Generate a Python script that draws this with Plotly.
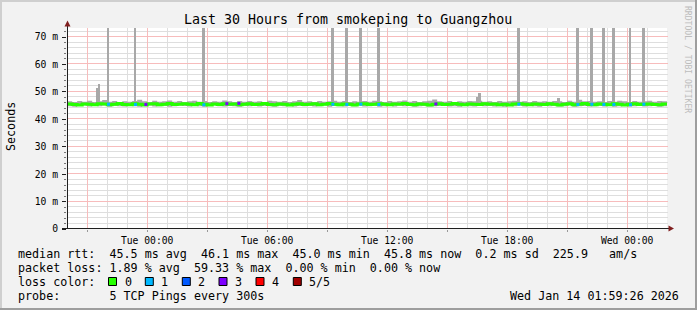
import plotly.graph_objects as go
import pandas as pd

# ---------------- data ----------------
title_text = "Last 30 Hours from smokeping to Guangzhou"
t_start = "2026-01-12 19:59:26"
t_end = "2026-01-14 01:59:26"

# 15-minute samples from Mon 20:00 to Wed 02:00
times = pd.date_range("2026-01-12 20:00", "2026-01-14 02:00", freq="15min")

median_ms = [
    45.6, 45.4, 45.2, 45.6, 45.5, 45.3, 45.7, 45.6, 45.3, 45.5, 45.8, 45.4,
    45.3, 45.7, 45.5, 45.2, 45.6, 45.7, 45.3, 45.5, 45.8, 45.4, 45.5, 45.7,
    45.5, 45.3, 45.8, 45.5, 45.2, 45.6, 45.4, 45.7, 45.5, 45.6, 45.3, 45.5,
    45.7, 45.4, 45.5, 45.8, 45.4, 45.3, 45.6, 45.5, 45.2, 45.5, 45.7, 45.4,
    45.5, 45.7, 45.3, 45.5, 45.8, 45.5, 45.3, 45.6, 45.5, 45.2, 45.6, 45.7,
    45.4, 45.5, 45.7, 45.5, 45.3, 45.6, 45.5, 45.8, 45.4, 45.3, 45.6, 45.5,
    45.2, 45.5, 45.7, 45.4, 45.5, 45.8, 45.5, 45.3, 45.6, 45.5, 45.4, 45.7,
    45.5, 45.6, 45.3, 45.5, 45.2, 45.6, 45.7, 45.5, 45.3, 45.6, 45.5, 45.4,
    45.7, 45.5, 45.2, 45.5, 45.7, 45.3, 45.5, 45.8, 45.4, 45.3, 45.6, 45.5,
    45.3, 45.7, 45.5, 45.2, 45.5, 45.7, 45.4, 45.5, 45.6, 45.4, 45.3, 45.6,
    45.8,
]
smoke_hi_ms = [
    46.6, 46.3, 46.7, 46.4, 46.8, 46.3, 46.6, 47.0, 46.4, 46.7, 46.3, 46.6,
    46.4, 46.7, 47.1, 46.6, 46.3, 46.8, 46.4, 46.6, 46.9, 46.4, 46.7, 46.3,
    46.6, 46.8, 46.4, 46.7, 46.3, 46.6, 46.4, 46.9, 46.6, 46.3, 46.7, 46.4,
    46.7, 46.4, 46.6, 46.3, 46.8, 46.6, 46.4, 46.7, 46.3, 46.6, 47.0, 46.4,
    46.6, 46.3, 46.7, 46.4, 46.6, 46.8, 46.4, 46.7, 46.3, 46.6, 46.4, 46.7,
    46.4, 46.8, 46.6, 46.3, 46.7, 46.4, 46.6, 46.9, 46.4, 46.7, 46.3, 46.6,
    46.8, 47.2, 46.6, 46.4, 46.7, 46.3, 46.6, 46.4, 46.7, 46.6, 46.8, 46.4,
    46.6, 46.3, 46.7, 46.4, 46.6, 46.8, 46.4, 46.6, 46.3, 46.7, 46.4, 46.6,
    46.4, 46.7, 46.6, 46.3, 46.8, 46.4, 47.1, 46.6, 46.7, 46.4, 46.6, 46.3,
    46.7, 46.4, 46.8, 46.6, 46.3, 46.7, 46.4, 46.6, 46.8, 46.4, 46.7, 46.6,
    46.7,
]
smoke_lo_ms = [
    44.8, 44.6, 44.9, 45.0, 44.7, 44.9, 44.8, 45.0, 44.6, 44.9, 44.8, 44.7,
    44.9, 44.8, 44.6, 44.9, 45.0, 44.7, 44.8, 44.9, 44.6, 44.8, 45.0, 44.9,
    44.7, 44.9, 44.8, 44.6, 44.9, 45.0, 44.8, 44.7, 44.9, 44.8, 44.6, 44.9,
    44.8, 45.0, 44.7, 44.9, 44.8, 44.6, 44.9, 44.8, 45.0, 44.7, 44.9, 44.8,
    44.9, 44.7, 44.8, 45.0, 44.6, 44.9, 44.8, 44.7, 44.9, 44.8, 45.0, 44.7,
    44.8, 44.9, 44.6, 44.8, 44.9, 44.7, 45.0, 44.8, 44.9, 44.6, 44.8, 44.9,
    44.7, 44.8, 44.9, 45.0, 44.7, 44.8, 44.6, 44.9, 44.8, 44.7, 44.9, 44.8,
    44.9, 44.7, 44.8, 44.6, 44.9, 44.8, 45.0, 44.7, 44.9, 44.8, 44.6, 44.9,
    44.8, 44.9, 44.7, 44.8, 45.0, 44.6, 44.8, 44.9, 44.7, 44.8, 44.9, 44.7,
    44.9, 44.6, 44.8, 44.9, 44.7, 44.8, 45.0, 44.7, 44.8, 44.9, 44.6, 44.8,
    44.9,
]

# max-ping spikes (grey smoke that escapes upward)
spike_times = [
    "2026-01-12 21:32", "2026-01-12 21:36", "2026-01-12 22:04", "2026-01-12 23:25",
    "2026-01-13 02:50", "2026-01-13 09:17", "2026-01-13 09:59", "2026-01-13 10:41",
    "2026-01-13 11:35", "2026-01-13 16:32", "2026-01-13 16:38", "2026-01-13 18:35",
    "2026-01-13 20:35", "2026-01-13 21:32", "2026-01-13 22:14", "2026-01-13 22:50",
    "2026-01-13 23:20", "2026-01-14 00:10", "2026-01-14 00:50",
]
spike_top_ms = [
    51.3, 52.9, 80.0, 80.0,
    80.0, 80.0, 80.0, 80.0,
    80.0, 48.0, 49.6, 80.0,
    47.9, 80.0, 80.0, 80.0,
    80.0, 80.0, 80.0,
]
spike_base_ms = 46.0

# loss-coloured median samples
loss1_times = [
    "2026-01-12 22:04", "2026-01-12 23:25", "2026-01-13 02:50", "2026-01-13 09:17",
    "2026-01-13 09:59", "2026-01-13 10:41", "2026-01-13 11:35", "2026-01-13 18:35",
    "2026-01-13 21:32", "2026-01-13 22:14", "2026-01-13 22:50", "2026-01-13 23:20",
    "2026-01-14 00:10", "2026-01-14 00:50",
]
loss1_ms = [45.5, 45.4, 45.3, 45.5, 45.4, 45.5, 45.4, 45.5, 45.4, 45.5, 45.4, 45.4, 45.3, 45.5]
loss3_times = ["2026-01-12 23:56", "2026-01-13 03:59", "2026-01-13 04:35", "2026-01-13 14:26"]
loss3_ms = [45.4, 45.7, 45.8, 45.6]

y_tickvals = [0, 10, 20, 30, 40, 50, 60, 70]
y_ticktext = ["0", "10 m", "20 m", "30 m", "40 m", "50 m", "60 m", "70 m"]
x_tickvals = [
    "2026-01-12 21:00", "2026-01-13 00:00", "2026-01-13 03:00", "2026-01-13 06:00",
    "2026-01-13 09:00", "2026-01-13 12:00", "2026-01-13 15:00", "2026-01-13 18:00",
    "2026-01-13 21:00", "2026-01-14 00:00",
]
x_ticktext = ["", "Tue 00:00", "", "Tue 06:00", "", "Tue 12:00", "", "Tue 18:00", "", "Wed 00:00"]

legend_rtt = "median rtt:  45.5 ms avg  46.1 ms max  45.0 ms min  45.8 ms now  0.2 ms sd  225.9   am/s"
legend_loss = "packet loss: 1.89 % avg  59.33 % max  0.00 % min  0.00 % now"
legend_color_label = "loss color:"
loss_labels = ["0", "1", "2", "3", "4", "5/5"]
loss_colors = ["#26ff00", "#00b8ff", "#0059ff", "#7e00ff", "#ff0000", "#a10000"]
legend_probe = "probe:       5 TCP Pings every 300s"
stamp_text = "Wed Jan 14 01:59:26 2026"
watermark = "RRDTOOL / TOBI OETIKER"
y_title = "Seconds"

# ---------------- styling / geometry ----------------
W, H = 697, 310
L, R, T, B = 67, 667, 28, 229
Y_MAX = 73.3
MONO = "DejaVu Sans Mono"
BACK = "#f2f2f2"
GRID = "#dedede"
MGRID = "#f7bcbc"
AXIS = "#1f1f1f"
ARROW = "#801f1f"

T0 = pd.Timestamp(t_start)
T1 = pd.Timestamp(t_end)

# grid positions (hourly / every 2 ms minor, 3 h / 10 ms major)
x_grid = list(pd.date_range("2026-01-12 20:00", "2026-01-14 01:00", freq="1h"))
y_grid = list(range(2, 74, 2))


def px(x):
    return (x - L) / (R - L)


def py(y):
    return (B - y) / (B - T)


def time_to_pix(t):
    return L + (t - T0) / (T1 - T0) * (R - L)


def val_to_pix(v):
    return B - v / Y_MAX * (B - T)


def nb(s):
    return s.replace(" ", "\u00a0")


fig = go.Figure()

fig.add_trace(go.Scatter(x=times, y=smoke_lo_ms, mode="lines", line=dict(width=0, shape="hv"),
                         hoverinfo="skip", showlegend=False))
fig.add_trace(go.Scatter(x=times, y=smoke_hi_ms, mode="lines", line=dict(width=0, shape="hv"),
                         fill="tonexty", fillcolor="#a8a8a8", hoverinfo="skip", showlegend=False))
fig.add_trace(go.Bar(x=pd.to_datetime(spike_times), y=[v - spike_base_ms for v in spike_top_ms],
                     base=spike_base_ms, width=330000, marker=dict(color="#a8a8a8", line=dict(width=0)),
                     hoverinfo="skip", showlegend=False))
fig.add_trace(go.Scatter(x=times, y=median_ms, mode="lines", line=dict(width=3, color=loss_colors[0], shape="hv"),
                         hoverinfo="skip", showlegend=False))
fig.add_trace(go.Scatter(x=pd.to_datetime(loss1_times), y=loss1_ms, mode="markers",
                         marker=dict(symbol="square", size=3, color=loss_colors[1], line=dict(width=0)),
                         hoverinfo="skip", showlegend=False))
fig.add_trace(go.Scatter(x=pd.to_datetime(loss3_times), y=loss3_ms, mode="markers",
                         marker=dict(symbol="square", size=3, color=loss_colors[3], line=dict(width=0)),
                         hoverinfo="skip", showlegend=False))

shapes = []
# grid (pixel-snapped, minor first so the major lines sit on top)
minor_shapes, major_shapes = [], []
for t in x_grid:
    xp = int(round(time_to_pix(t))) + 0.5
    major = t.hour % 3 == 0
    (major_shapes if major else minor_shapes).append(
        dict(type="line", xref="paper", yref="paper", x0=px(xp), x1=px(xp), y0=py(B), y1=py(T),
             line=dict(color=MGRID if major else GRID, width=1), layer="below"))
for v in y_grid:
    yp = int(round(val_to_pix(v))) - 0.5
    major = v % 10 == 0
    (major_shapes if major else minor_shapes).append(
        dict(type="line", xref="paper", yref="paper", x0=px(L), x1=px(R + 1), y0=py(yp), y1=py(yp),
             line=dict(color=MGRID if major else GRID, width=1), layer="below"))
shapes += minor_shapes + major_shapes
# frame shading
shapes.append(dict(type="rect", xref="paper", yref="paper", x0=px(0), x1=px(W), y0=py(0), y1=py(2),
                   fillcolor="#cfcfcf", line=dict(width=0), layer="above"))
shapes.append(dict(type="rect", xref="paper", yref="paper", x0=px(0), x1=px(2), y0=py(0), y1=py(H),
                   fillcolor="#cfcfcf", line=dict(width=0), layer="above"))
shapes.append(dict(type="rect", xref="paper", yref="paper", x0=px(0), x1=px(W), y0=py(H - 2), y1=py(H),
                   fillcolor="#9e9e9e", line=dict(width=0), layer="above"))
shapes.append(dict(type="rect", xref="paper", yref="paper", x0=px(W - 2), x1=px(W), y0=py(0), y1=py(H),
                   fillcolor="#9e9e9e", line=dict(width=0), layer="above"))
# axes
shapes.append(dict(type="line", xref="paper", yref="paper", x0=px(67.5), x1=px(67.5), y0=py(229), y1=py(24),
                   line=dict(color=AXIS, width=1), layer="above"))
shapes.append(dict(type="line", xref="paper", yref="paper", x0=px(62), x1=px(670), y0=py(228.5), y1=py(228.5),
                   line=dict(color=AXIS, width=1), layer="above"))
# arrows
shapes.append(dict(type="path", xref="paper", yref="paper",
                   path="M %f %f L %f %f L %f %f Z" % (px(67.5), py(20.5), px(64.5), py(26.5), px(70.5), py(26.5)),
                   fillcolor=ARROW, line=dict(width=0), layer="above"))
shapes.append(dict(type="path", xref="paper", yref="paper",
                   path="M %f %f L %f %f L %f %f Z" % (px(674), py(228.5), px(668.5), py(225.5), px(668.5), py(231.5)),
                   fillcolor=ARROW, line=dict(width=0), layer="above"))
# loss colour boxes
box_x = [108.5, 145.3, 182.3, 219.0, 256.0, 293.3]
for bx, col in zip(box_x, loss_colors):
    shapes.append(dict(type="rect", xref="paper", yref="paper", x0=px(bx), x1=px(bx + 8), y0=py(285.5), y1=py(277.5),
                       fillcolor=col, line=dict(color="black", width=1), layer="above"))

annotations = []


def text(s, x, y, size=11.7, xanchor="left", color="black", angle=0):
    annotations.append(dict(text=nb(s), x=px(x), y=py(y), xref="paper", yref="paper", showarrow=False,
                            xanchor=xanchor, yanchor="middle", textangle=angle,
                            font=dict(family=MONO, size=size, color=color)))


text(title_text, 348, 19.5, size=13.3, xanchor="center")
text(legend_rtt, 15.7, 254.3)
text(legend_loss, 15.7, 268.2)
text(legend_color_label, 15.7, 282.0)
for bx, lab in zip(box_x, loss_labels):
    text(lab, bx + 14, 282.0)
text(legend_probe, 15.7, 295.8)
text(stamp_text, 681, 295.8, xanchor="right")
text(watermark, 688, 59, size=8.1, xanchor="center", color="#bdbdbd", angle=90)
text(y_title, 10.5, 126.5, size=11.7, xanchor="center", angle=-90)

fig.update_layout(
    width=W, height=H,
    margin=dict(l=L, r=W - R, t=T, b=H - B, pad=0),
    paper_bgcolor=BACK, plot_bgcolor="white",
    showlegend=False, barmode="overlay", bargap=0,
    shapes=shapes, annotations=annotations,
    xaxis=dict(type="date", range=[t_start, t_end], tickmode="array",
               tickvals=x_tickvals, ticktext=x_ticktext,
               ticks="outside", ticklen=2, tickcolor="#999999", tickwidth=1,
               showgrid=False, zeroline=False, showline=False, fixedrange=True,
               tickfont=dict(family=MONO, size=9.7, color="black")),
    yaxis=dict(range=[0, Y_MAX], tickmode="array", tickvals=y_tickvals, ticktext=y_ticktext,
               ticks="outside", ticklen=4, tickcolor=AXIS, tickwidth=1,
               minor=dict(tickmode="array", tickvals=[v for v in y_grid if v % 10 != 0],
                          ticks="outside", ticklen=2, tickcolor="#777777", showgrid=False),
               showgrid=False, zeroline=False, showline=False, fixedrange=True, ticklabelstandoff=2,
               tickfont=dict(family=MONO, size=9.7, color="black")),
)

fig.write_html("out.html")
